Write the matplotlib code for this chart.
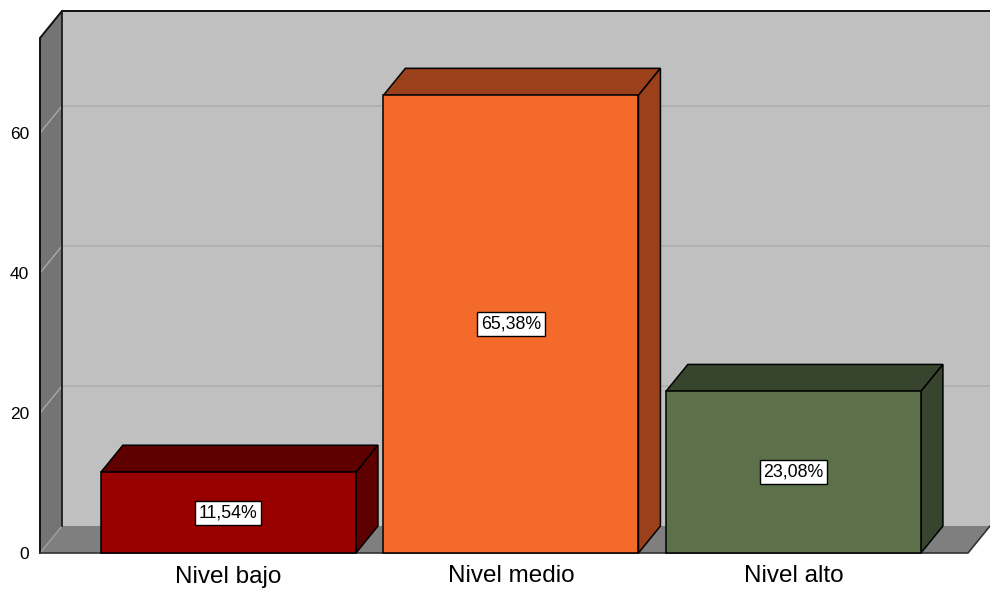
import matplotlib
matplotlib.use("Agg")
import matplotlib.pyplot as plt
from matplotlib.patches import Polygon, Rectangle

plt.rcParams['font.family'] = ['Liberation Sans', 'DejaVu Sans']

# ---- data ----
categories = ["Nivel bajo", "Nivel medio", "Nivel alto"]
percentages = [11.54, 65.38, 23.08]
value_labels = ["11,54%", "65,38%", "23,08%"]
yticks = [0, 20, 40, 60]

# ---- style ----
front_colors = ["#990000", "#F36A2B", "#5C7149"]
dark_colors = ["#5E0000", "#9A401A", "#38452E"]
back_wall = "#C0C0C0"
side_wall = "#747474"
floor_col = "#7F7F7F"
grid_col = "#AEAEAE"

W, H, DPI = 990, 592, 100
fig = plt.figure(figsize=(W / DPI, H / DPI), dpi=DPI)
fig.patch.set_facecolor("white")

ax_left_px, ax_bottom_px, ax_top_px = 40, 553, 38
ax = fig.add_axes([ax_left_px / W, (H - ax_bottom_px) / H,
                   (W - ax_left_px) / W, (ax_bottom_px - ax_top_px) / H])
x0, x1 = -0.667, 2.696
ymax = 73.57
ax.set_xlim(x0, x1)
ax.set_ylim(0, ymax)

# depth offset (pixels -> data units)
px_x = (W - ax_left_px) / (x1 - x0)
px_y = (ax_bottom_px - ax_top_px) / ymax
DX = 22 / px_x
DY = 27 / px_y
xr = x1 - DX  # front right end of floor
bar_w = 0.903

kw = dict(clip_on=False)
# back wall
ax.add_patch(Polygon([(x0 + DX, DY), (x1, DY), (x1, ymax + DY), (x0 + DX, ymax + DY)],
                     closed=True, facecolor=back_wall, edgecolor="none", zorder=1, **kw))
# left wall
ax.add_patch(Polygon([(x0, 0), (x0 + DX, DY), (x0 + DX, ymax + DY), (x0, ymax)],
                     closed=True, facecolor=side_wall, edgecolor="none", zorder=1, **kw))
# floor
ax.add_patch(Polygon([(x0, 0), (xr, 0), (x1, DY), (x0 + DX, DY)],
                     closed=True, facecolor=floor_col, edgecolor="none", zorder=1, **kw))

# grid lines
for v in yticks[1:]:
    ax.plot([x0 + DX, x1], [v + DY, v + DY], color=grid_col, lw=1.2, zorder=2, **kw)
    ax.plot([x0, x0 + DX], [v, v + DY], color="#A8A8A8", lw=1.0, zorder=2, **kw)
ax.plot([x0, x0 + DX], [0, DY], color="#A0A0A0", lw=1.0, zorder=2, **kw)

# wall outlines
lc = "#111111"
ax.plot([x0, x0, x0 + DX, x1], [0, ymax, ymax + DY, ymax + DY], color=lc, lw=1.4, zorder=3,
        solid_joinstyle="miter", **kw)
ax.plot([x0 + DX, x0 + DX], [DY, ymax + DY], color=lc, lw=1.2, zorder=3, **kw)
ax.plot([x0, xr, x1], [0, 0, DY], color="#333333", lw=1.2, zorder=3, **kw)

# bars
for i, (v, lab) in enumerate(zip(percentages, value_labels)):
    l, r = i - bar_w / 2, i + bar_w / 2
    ax.add_patch(Polygon([(l, v), (r, v), (r + DX, v + DY), (l + DX, v + DY)], closed=True,
                         facecolor=dark_colors[i], edgecolor="black", lw=1.1, zorder=4,
                         joinstyle="miter", **kw))
    ax.add_patch(Polygon([(r, 0), (r + DX, DY), (r + DX, v + DY), (r, v)], closed=True,
                         facecolor=dark_colors[i], edgecolor="black", lw=1.1, zorder=4,
                         joinstyle="miter", **kw))
    ax.add_patch(Rectangle((l, 0), bar_w, v, facecolor=front_colors[i], edgecolor="black",
                           lw=1.1, zorder=5, joinstyle="miter", **kw))
    ax.text(i, v / 2, lab, ha="center", va="center", fontsize=12.8, color="black", zorder=6,
            bbox=dict(boxstyle="square,pad=0.2", facecolor="white", edgecolor="black", lw=1.0))

for s in ax.spines.values():
    s.set_visible(False)
ax.set_yticks(yticks)
ax.set_yticklabels([str(t) for t in yticks], fontsize=12.5)
ax.set_xticks(range(len(categories)))
ax.set_xticklabels(categories, fontsize=17.5)
ax.tick_params(axis="y", length=0, pad=8)
ax.tick_params(axis="x", length=0, pad=9)
ax.set_facecolor("none")

fig.savefig("out.png", dpi=DPI, facecolor="white")
